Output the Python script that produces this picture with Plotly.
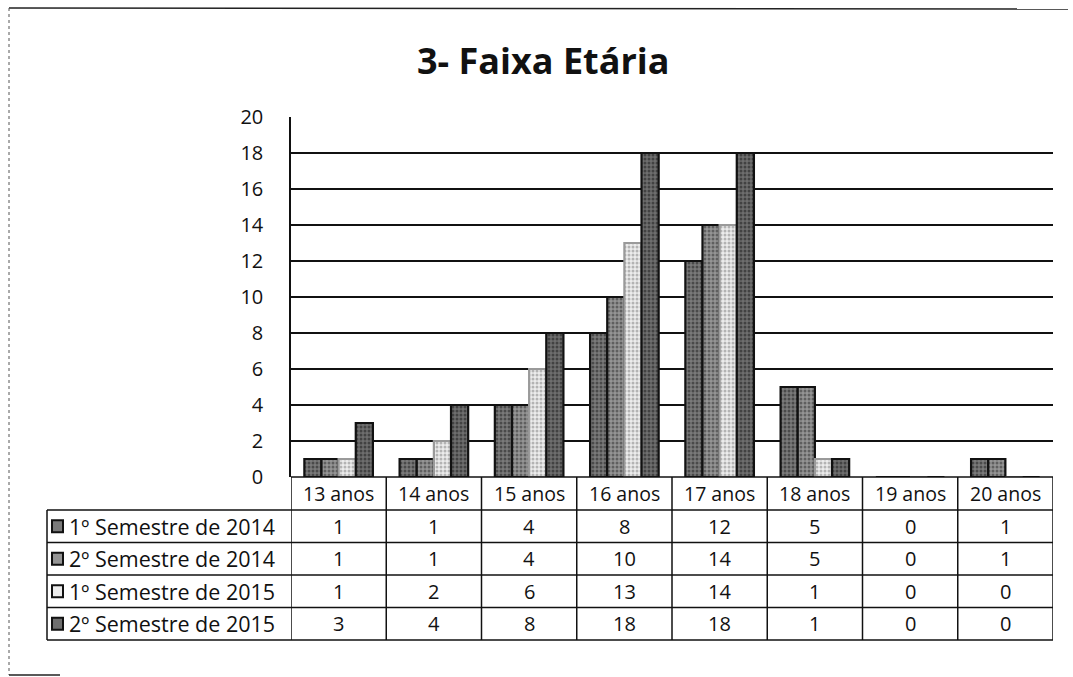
import plotly.graph_objects as go

# Age-group distribution per semester
categories = ["13 anos", "14 anos", "15 anos", "16 anos", "17 anos", "18 anos", "19 anos", "20 anos"]
series_names = ["1º Semestre de 2014", "2º Semestre de 2014", "1º Semestre de 2015", "2º Semestre de 2015"]
sem1_2014 = [1, 1, 4, 8, 12, 5, 0, 1]
sem2_2014 = [1, 1, 4, 10, 14, 5, 0, 1]
sem1_2015 = [1, 2, 6, 13, 14, 1, 0, 0]
sem2_2015 = [3, 4, 8, 18, 18, 1, 0, 0]
series_values = [sem1_2014, sem2_2014, sem1_2015, sem2_2015]
y_ticks = list(range(0, 21, 2))

W, H = 1073, 677
FONT = "Open Sans"
fills = ["#7a7a7a", "#959595", "#ececec", "#6e6e6e"]
dots = ["#1a1a1a", "#2a2a2a", "#7a7a7a", "#151515"]
edges = ["#111111", "#111111", "#9a9a9a", "#111111"]


def px(x):
    return x / W


def py(y):
    return 1 - y / H


# plot area in pixels
X0, X1, Y0, Y1 = 291, 1053, 117, 477

fig = go.Figure()
for name, vals, fc, dc, ec in zip(series_names, series_values, fills, dots, edges):
    fig.add_trace(go.Bar(
        x=list(range(len(categories))), y=vals, name=name,
        marker=dict(color=fc, line=dict(color=ec, width=2.2),
                    pattern=dict(shape=".", fgcolor=dc, bgcolor=fc, size=4, solidity=0.45)),
        showlegend=False,
    ))

shapes = []
annotations = []


def label(x, y, text, xref="paper", size=20, xanchor="center", bold=False):
    annotations.append(dict(x=x, y=y, xref=xref, yref="paper", text=f"<b>{text}</b>" if bold else text,
                            xanchor=xanchor, yanchor="middle", showarrow=False,
                            font=dict(family=FONT, size=size, color="#111111")))


# data table under the chart
row_lines = [477, 510, 542.5, 575, 607.5, 640]
# vertical lines at category boundaries
for b in [i - 0.5 for i in range(len(categories) + 1)]:
    shapes.append(dict(type="line", xref="x", yref="paper", x0=b, x1=b,
                       y0=py(row_lines[0]), y1=py(row_lines[-1]),
                       line=dict(color="#111111", width=1.5)))
# horizontal lines
for k, yl in enumerate(row_lines):
    xl = X0 if k == 0 else 47
    shapes.append(dict(type="line", xref="paper", yref="paper", x0=px(xl), x1=px(X1),
                       y0=py(yl), y1=py(yl), line=dict(color="#111111", width=1.5)))
# left border of the series-name column
shapes.append(dict(type="line", xref="paper", yref="paper", x0=px(47), x1=px(47),
                   y0=py(row_lines[1]), y1=py(row_lines[-1]),
                   line=dict(color="#111111", width=1.5)))

# category header row
for i, c in enumerate(categories):
    label(i, py((row_lines[0] + row_lines[1]) / 2), c, xref="x", size=19.5)

# series rows
for r, (name, vals, fc, ec) in enumerate(zip(series_names, series_values, fills, edges)):
    yc = (row_lines[r + 1] + row_lines[r + 2]) / 2
    shapes.append(dict(type="rect", xref="paper", yref="paper", x0=px(52), x1=px(63),
                       y0=py(yc + 6), y1=py(yc - 6), fillcolor=fc,
                       line=dict(color="#111111", width=2)))
    label(px(67), py(yc), name, xanchor="left", size=21.5)
    for i, v in enumerate(vals):
        label(i, py(yc), str(v), xref="x")

# outer frame (top and left)
shapes.append(dict(type="line", xref="paper", yref="paper", x0=px(9), x1=px(1068),
                   y0=py(8), y1=py(9), line=dict(color="#222222", width=1.5)))
shapes.append(dict(type="line", xref="paper", yref="paper", x0=px(9), x1=px(9),
                   y0=py(8), y1=py(675), line=dict(color="#555555", width=1, dash="dot")))
shapes.append(dict(type="line", xref="paper", yref="paper", x0=px(9), x1=px(60),
                   y0=py(675), y1=py(675), line=dict(color="#222222", width=1.5)))

# title
label(px(543), py(61), "3- Faixa Etária", size=36, bold=True)

fig.update_layout(
    width=W, height=H,
    margin=dict(l=0, r=0, t=0, b=0, autoexpand=False),
    paper_bgcolor="white", plot_bgcolor="white",
    barmode="group", bargap=0.28, bargroupgap=0,
    shapes=shapes, annotations=annotations,
    xaxis=dict(domain=[px(X0), px(X1)], range=[-0.5, len(categories) - 0.5],
               showticklabels=False, showgrid=False, zeroline=False, ticks=""),
    yaxis=dict(domain=[py(Y1), py(Y0)], range=[0, 20], tickvals=y_ticks,
               showgrid=True, gridcolor="#111111", gridwidth=2, zeroline=False,
               showline=True, linecolor="#111111", linewidth=1.5,
               ticks="", ticklen=0, ticklabelstandoff=22,
               tickfont=dict(family=FONT, size=20, color="#111111")),
)

fig.write_html("out.html")
